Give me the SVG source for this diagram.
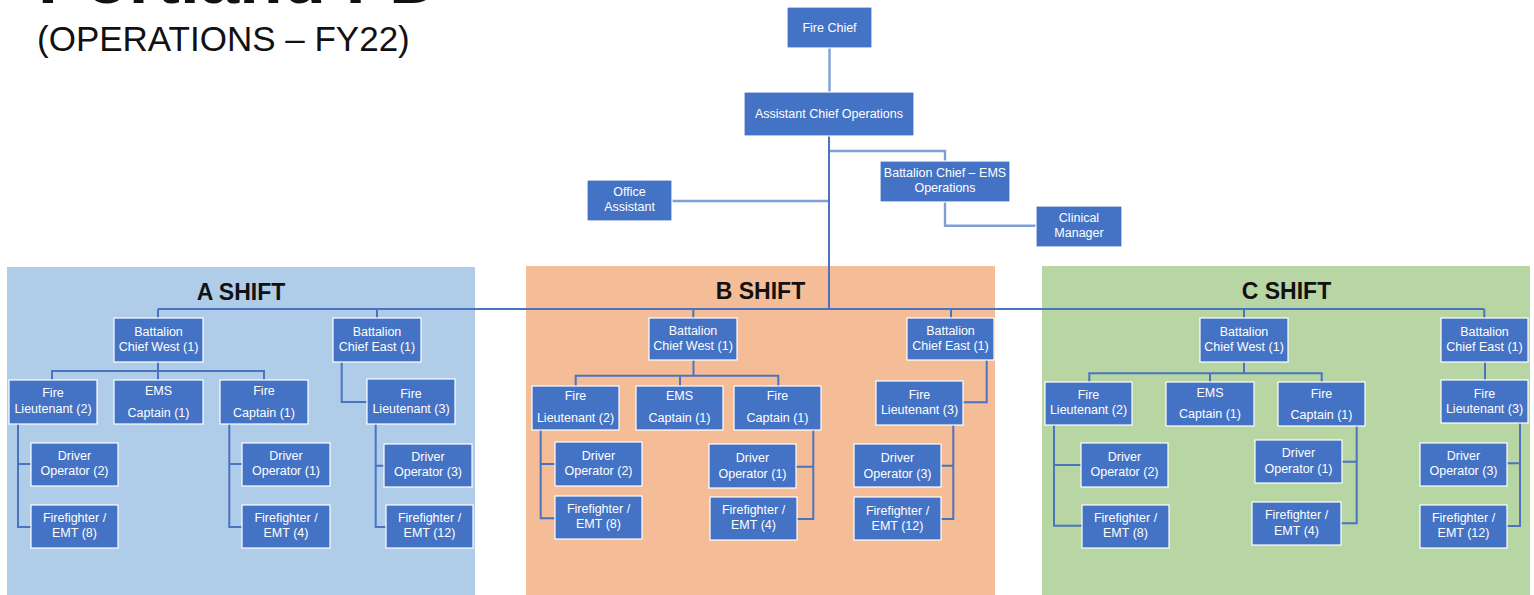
<svg xmlns="http://www.w3.org/2000/svg" width="1534" height="595" viewBox="0 0 1534 595">
  <style>
    .box { fill: #4472c4; stroke: #ffffff; stroke-width: 1.2; }
    .lbl { font-family: "Liberation Sans", Arial, sans-serif; font-size: 12.5px; fill: #ffffff; text-anchor: middle; }
    .shift { font-family: "Liberation Sans", Arial, sans-serif; font-size: 23px; font-weight: bold; fill: #111111; text-anchor: middle; }
    .title { font-family: "Liberation Sans", Arial, sans-serif; fill: #111111; }
    .wire { fill: none; stroke: #4a74bf; stroke-width: 2; }
    .wire-top { fill: none; stroke: #7f9fd6; stroke-width: 2.4; }
  </style>

  <rect x="0" y="0" width="1534" height="595" fill="#ffffff"/>

  <!-- Page title (top line runs off the page edge) -->
  <g id="title">
    <text class="title" x="38" y="3" font-size="71" font-weight="bold">Portland FD</text>
    <text class="title" x="37" y="51" font-size="35">(OPERATIONS – FY22)</text>
  </g>

  <!-- Shift panels -->
  <g id="panels">
    <rect x="7" y="267" width="468" height="328" fill="#afcce9"/>
    <rect x="526" y="266" width="469" height="329" fill="#f5bd97"/>
    <rect x="1042" y="266" width="488" height="329" fill="#b8d5a4"/>
    <text class="shift" x="241" y="300">A SHIFT</text>
    <text class="shift" x="760.5" y="299">B SHIFT</text>
    <text class="shift" x="1286.5" y="299">C SHIFT</text>
  </g>

  <!-- Connectors -->
  <g id="connectors">
    <!-- command staff -->
    <path class="wire-top" d="M829.5 48 V92"/>
    <path class="wire-top" d="M829 151 H945 V161"/>
    <path class="wire-top" d="M672 201 H829"/>
    <path class="wire-top" d="M945 202 V225.7 H1036"/>
    <path class="wire" d="M829 136 V309"/>
    <!-- shift bus -->
    <path class="wire" d="M158 309 H1484.3"/>

    <!-- A shift -->
    <path class="wire" d="M158 309 V318 M377 309 V318"/>
    <path class="wire" d="M158 362 V380 M52 380 V371 H264 V380"/>
    <path class="wire" d="M341.7 362 V402 H367"/>
    <path class="wire" d="M18 424 V527 H31 M18 464 H31"/>
    <path class="wire" d="M229.3 424 V527 H242 M229.3 464 H242"/>
    <path class="wire" d="M375.7 424 V527 H386 M375.7 465.7 H384"/>

    <!-- B shift -->
    <path class="wire" d="M693.3 309 V318 M951 309 V318"/>
    <path class="wire" d="M693.5 360 V375.7 M575.7 386 V375.7 H778.3 V386 M680 375.7 V386"/>
    <path class="wire" d="M986.7 360 V402.3 H963"/>
    <path class="wire" d="M540.7 430 V518.3 H555 M540.7 464 H555"/>
    <path class="wire" d="M813.3 430 V519 H797 M813.3 466.7 H796"/>
    <path class="wire" d="M953.3 425 V519 H941 M953.3 465.7 H941"/>

    <!-- C shift -->
    <path class="wire" d="M1244 309 V318 M1484.3 309 V318"/>
    <path class="wire" d="M1244 362 V373.3 M1089.3 382 V373.3 H1321.7 V382 M1210 373.3 V382"/>
    <path class="wire" d="M1485 362 V380"/>
    <path class="wire" d="M1054 425 V525.7 H1082 M1054 465 H1081"/>
    <path class="wire" d="M1356.7 426 V523.3 H1341 M1356.7 461.7 H1342"/>
    <path class="wire" d="M1520 423 V526 H1507 M1520 463.3 H1507"/>
  </g>

  <!-- Command staff -->
  <g id="fire-chief"><rect class="box" x="787" y="7" width="85" height="41"/>
    <text class="lbl" x="829.5" y="32">Fire Chief</text></g>
  <g id="assistant-chief-ops"><rect class="box" x="744" y="92" width="170" height="44"/>
    <text class="lbl" x="829" y="118">Assistant Chief Operations</text></g>
  <g id="bc-ems-ops"><rect class="box" x="880" y="161" width="130" height="41"/>
    <text class="lbl" x="945" y="177">Battalion Chief – EMS</text>
    <text class="lbl" x="945" y="192">Operations</text></g>
  <g id="office-assistant"><rect class="box" x="587" y="180" width="85" height="41"/>
    <text class="lbl" x="629.5" y="196">Office</text>
    <text class="lbl" x="629.5" y="211">Assistant</text></g>
  <g id="clinical-manager"><rect class="box" x="1036" y="206" width="86" height="41"/>
    <text class="lbl" x="1079" y="222">Clinical</text>
    <text class="lbl" x="1079" y="237">Manager</text></g>

  <!-- A shift -->
  <g id="a-bc-west"><rect class="box" x="114" y="318" width="89" height="44"/>
    <text class="lbl" x="158.5" y="335.5">Battalion</text>
    <text class="lbl" x="158.5" y="351">Chief West (1)</text></g>
  <g id="a-bc-east"><rect class="box" x="333" y="318" width="88" height="44"/>
    <text class="lbl" x="377" y="335.5">Battalion</text>
    <text class="lbl" x="377" y="351">Chief East (1)</text></g>
  <g id="a-fire-lt-2"><rect class="box" x="9" y="380" width="88" height="44"/>
    <text class="lbl" x="53" y="397">Fire</text>
    <text class="lbl" x="53" y="412.5">Lieutenant (2)</text></g>
  <g id="a-ems-captain"><rect class="box" x="114" y="380" width="89" height="44"/>
    <text class="lbl" x="158.5" y="395">EMS</text>
    <text class="lbl" x="158.5" y="416.5">Captain (1)</text></g>
  <g id="a-fire-captain"><rect class="box" x="220" y="380" width="88" height="44"/>
    <text class="lbl" x="264" y="395">Fire</text>
    <text class="lbl" x="264" y="416.5">Captain (1)</text></g>
  <g id="a-fire-lt-3"><rect class="box" x="367" y="379" width="88" height="45"/>
    <text class="lbl" x="411" y="397.5">Fire</text>
    <text class="lbl" x="411" y="412.5">Lieutenant (3)</text></g>
  <g id="a-driver-2"><rect class="box" x="31" y="443" width="87" height="43"/>
    <text class="lbl" x="74.5" y="459.5">Driver</text>
    <text class="lbl" x="74.5" y="475">Operator (2)</text></g>
  <g id="a-ff-8"><rect class="box" x="31" y="505" width="87" height="43"/>
    <text class="lbl" x="74.5" y="521.5">Firefighter /</text>
    <text class="lbl" x="74.5" y="537">EMT (8)</text></g>
  <g id="a-driver-1"><rect class="box" x="242" y="443" width="88" height="43"/>
    <text class="lbl" x="286" y="459.5">Driver</text>
    <text class="lbl" x="286" y="475">Operator (1)</text></g>
  <g id="a-ff-4"><rect class="box" x="242" y="505" width="88" height="43"/>
    <text class="lbl" x="286" y="521.5">Firefighter /</text>
    <text class="lbl" x="286" y="537">EMT (4)</text></g>
  <g id="a-driver-3"><rect class="box" x="384" y="444" width="88" height="43"/>
    <text class="lbl" x="428" y="461">Driver</text>
    <text class="lbl" x="428" y="476">Operator (3)</text></g>
  <g id="a-ff-12"><rect class="box" x="386" y="505" width="87" height="43"/>
    <text class="lbl" x="429.5" y="521.5">Firefighter /</text>
    <text class="lbl" x="429.5" y="537">EMT (12)</text></g>

  <!-- B shift -->
  <g id="b-bc-west"><rect class="box" x="649" y="318" width="88" height="42"/>
    <text class="lbl" x="693" y="334.5">Battalion</text>
    <text class="lbl" x="693" y="349.5">Chief West (1)</text></g>
  <g id="b-bc-east"><rect class="box" x="907" y="318" width="87" height="42"/>
    <text class="lbl" x="950.5" y="334.5">Battalion</text>
    <text class="lbl" x="950.5" y="349.5">Chief East (1)</text></g>
  <g id="b-fire-lt-2"><rect class="box" x="532" y="386" width="87" height="44"/>
    <text class="lbl" x="575.5" y="400">Fire</text>
    <text class="lbl" x="575.5" y="421.5">Lieutenant (2)</text></g>
  <g id="b-ems-captain"><rect class="box" x="636" y="386" width="87" height="44"/>
    <text class="lbl" x="679.5" y="400">EMS</text>
    <text class="lbl" x="679.5" y="421.5">Captain (1)</text></g>
  <g id="b-fire-captain"><rect class="box" x="734" y="386" width="87" height="44"/>
    <text class="lbl" x="777.5" y="400">Fire</text>
    <text class="lbl" x="777.5" y="421.5">Captain (1)</text></g>
  <g id="b-fire-lt-3"><rect class="box" x="876" y="381" width="87" height="44"/>
    <text class="lbl" x="919.5" y="398.5">Fire</text>
    <text class="lbl" x="919.5" y="414">Lieutenant (3)</text></g>
  <g id="b-driver-2"><rect class="box" x="555" y="442" width="87" height="44"/>
    <text class="lbl" x="598.5" y="459.5">Driver</text>
    <text class="lbl" x="598.5" y="475">Operator (2)</text></g>
  <g id="b-ff-8"><rect class="box" x="555" y="496" width="87" height="43"/>
    <text class="lbl" x="598.5" y="512.5">Firefighter /</text>
    <text class="lbl" x="598.5" y="528">EMT (8)</text></g>
  <g id="b-driver-1"><rect class="box" x="709" y="444" width="87" height="44"/>
    <text class="lbl" x="752.5" y="462">Driver</text>
    <text class="lbl" x="752.5" y="477.5">Operator (1)</text></g>
  <g id="b-ff-4"><rect class="box" x="710" y="497" width="87" height="43"/>
    <text class="lbl" x="753.5" y="513.5">Firefighter /</text>
    <text class="lbl" x="753.5" y="529">EMT (4)</text></g>
  <g id="b-driver-3"><rect class="box" x="854" y="444" width="87" height="43"/>
    <text class="lbl" x="897.5" y="462">Driver</text>
    <text class="lbl" x="897.5" y="477.5">Operator (3)</text></g>
  <g id="b-ff-12"><rect class="box" x="854" y="497" width="87" height="43"/>
    <text class="lbl" x="897.5" y="514.5">Firefighter /</text>
    <text class="lbl" x="897.5" y="530">EMT (12)</text></g>

  <!-- C shift -->
  <g id="c-bc-west"><rect class="box" x="1200" y="318" width="88" height="44"/>
    <text class="lbl" x="1244" y="335.5">Battalion</text>
    <text class="lbl" x="1244" y="350.5">Chief West (1)</text></g>
  <g id="c-bc-east"><rect class="box" x="1441" y="318" width="87" height="44"/>
    <text class="lbl" x="1484.5" y="335.5">Battalion</text>
    <text class="lbl" x="1484.5" y="350.5">Chief East (1)</text></g>
  <g id="c-fire-lt-2"><rect class="box" x="1045" y="382" width="87" height="43"/>
    <text class="lbl" x="1088.5" y="398.5">Fire</text>
    <text class="lbl" x="1088.5" y="414">Lieutenant (2)</text></g>
  <g id="c-ems-captain"><rect class="box" x="1166" y="382" width="88" height="44"/>
    <text class="lbl" x="1210" y="396.5">EMS</text>
    <text class="lbl" x="1210" y="418">Captain (1)</text></g>
  <g id="c-fire-captain"><rect class="box" x="1278" y="382" width="87" height="44"/>
    <text class="lbl" x="1321.5" y="397.5">Fire</text>
    <text class="lbl" x="1321.5" y="419">Captain (1)</text></g>
  <g id="c-fire-lt-3"><rect class="box" x="1441" y="380" width="87" height="43"/>
    <text class="lbl" x="1484.5" y="397.5">Fire</text>
    <text class="lbl" x="1484.5" y="412.5">Lieutenant (3)</text></g>
  <g id="c-driver-2"><rect class="box" x="1081" y="443" width="87" height="44"/>
    <text class="lbl" x="1124.5" y="461">Driver</text>
    <text class="lbl" x="1124.5" y="476">Operator (2)</text></g>
  <g id="c-ff-8"><rect class="box" x="1082" y="505" width="87" height="43"/>
    <text class="lbl" x="1125.5" y="521.5">Firefighter /</text>
    <text class="lbl" x="1125.5" y="537">EMT (8)</text></g>
  <g id="c-driver-1"><rect class="box" x="1255" y="440" width="87" height="43"/>
    <text class="lbl" x="1298.5" y="457">Driver</text>
    <text class="lbl" x="1298.5" y="472.5">Operator (1)</text></g>
  <g id="c-ff-4"><rect class="box" x="1252" y="502" width="89" height="43"/>
    <text class="lbl" x="1296.5" y="519">Firefighter /</text>
    <text class="lbl" x="1296.5" y="534.5">EMT (4)</text></g>
  <g id="c-driver-3"><rect class="box" x="1420" y="443" width="87" height="43"/>
    <text class="lbl" x="1463.5" y="459.5">Driver</text>
    <text class="lbl" x="1463.5" y="475">Operator (3)</text></g>
  <g id="c-ff-12"><rect class="box" x="1420" y="505" width="87" height="43"/>
    <text class="lbl" x="1463.5" y="521.5">Firefighter /</text>
    <text class="lbl" x="1463.5" y="537">EMT (12)</text></g>
</svg>
